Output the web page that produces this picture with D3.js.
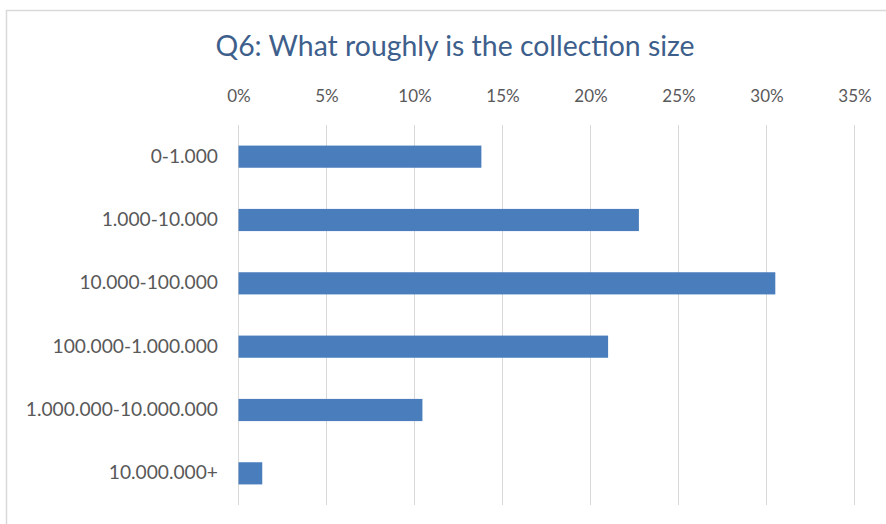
<!DOCTYPE html>
<html>
<head>
<meta charset="utf-8">
<script src="https://cdn.jsdelivr.net/npm/d3@7"></script>
<style>
  html, body { margin: 0; padding: 0; background: #fff; }
  svg { display: block; }
</style>
</head>
<body>
<svg id="chart" width="886" height="524"></svg>
<script>
// Collection size distribution (share of respondents)
const categories = ["0-1.000", "1.000-10.000", "10.000-100.000", "100.000-1.000.000", "1.000.000-10.000.000", "10.000.000+"];
const shares = [13.8, 22.75, 30.5, 21.0, 10.45, 1.35];
const tickValues = [0, 5, 10, 15, 20, 25, 30, 35];
const titleText = "Q6: What roughly is the collection size";

const svg = d3.select("#chart");
const W = 886, H = 524;
const fontFamily = "Lato, 'Open Sans', sans-serif";

// chart frame
svg.append("rect")
  .attr("x", 6.5).attr("y", 10.5)
  .attr("width", W + 10).attr("height", H)
  .attr("fill", "#fff")
  .attr("stroke", "#d9d9d9").attr("stroke-width", 1.5);

const plot = { left: 238.5, right: 854.5, top: 125, bottom: 505 };

const x = d3.scaleLinear().domain([0, 35]).range([plot.left, plot.right]);
const y = d3.scaleBand().domain(categories).range([plot.top, plot.bottom]).paddingInner(0.65).paddingOuter(0.325);

// vertical gridlines
svg.append("g")
  .selectAll("line")
  .data(tickValues)
  .join("line")
  .attr("x1", d => x(d)).attr("x2", d => x(d))
  .attr("y1", plot.top).attr("y2", plot.bottom)
  .attr("stroke", "#d9d9d9").attr("stroke-width", 1);

// top axis labels
const xAxis = d3.axisTop(x).tickValues(tickValues).tickFormat(d => d + "%").tickSize(0).tickPadding(0);
const gx = svg.append("g").attr("transform", `translate(0, 102)`).call(xAxis);
gx.select(".domain").remove();
gx.selectAll("text")
  .attr("fill", "#595959")
  .style("font-family", fontFamily)
  .style("font-size", "17px");

// category labels
const yAxis = d3.axisLeft(y).tickSize(0).tickPadding(0);
const gy = svg.append("g").attr("transform", `translate(218, 0)`).call(yAxis);
gy.select(".domain").remove();
gy.selectAll("text")
  .attr("fill", "#595959")
  .style("font-family", fontFamily)
  .style("font-size", "19.2px");

// bars
svg.append("g")
  .selectAll("rect")
  .data(categories.map((c, i) => ({ c, v: shares[i] })))
  .join("rect")
  .attr("x", x(0))
  .attr("y", d => y(d.c))
  .attr("width", d => x(d.v) - x(0))
  .attr("height", y.bandwidth())
  .attr("fill", "#4a7dbb");

// title
svg.append("text")
  .attr("x", 455).attr("y", 56)
  .attr("text-anchor", "middle")
  .attr("fill", "#3e5f8c")
  .style("font-family", fontFamily)
  .style("font-size", "28.4px")
  .text(titleText);
</script>
</body>
</html>
